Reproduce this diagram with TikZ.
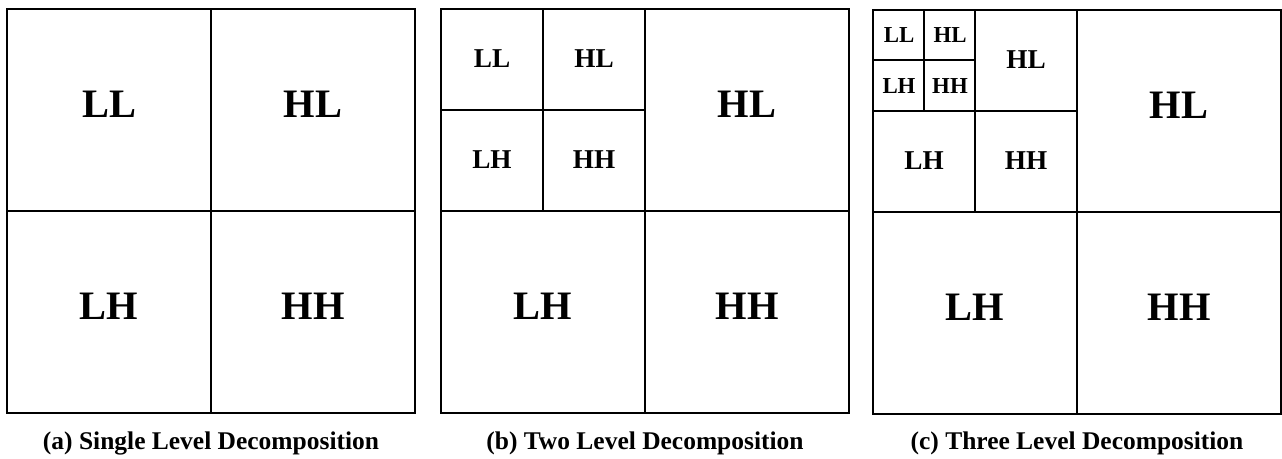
\documentclass[tikz,border=0pt]{standalone}
\usepackage{fontspec}
\setmainfont{Liberation Serif}

\begin{document}
\begin{tikzpicture}[
  x=0.02cm,y=-0.02cm,
  frame/.style={line width=0.9pt},
  lblA/.style={font=\fontsize{23}{23}\selectfont\bfseries,inner sep=0pt},
  lblB/.style={font=\fontsize{15.5}{16}\selectfont\bfseries,inner sep=0pt},
  lblC/.style={font=\fontsize{13}{13}\selectfont\bfseries,inner sep=0pt},
  capt/.style={font=\fontsize{14.5}{15}\selectfont\bfseries,inner sep=0pt}
]
\useasboundingbox (0,0) rectangle (1282,459);

% ---- (a) single level ----
\begin{scope}[shift={(7,9)}]
\draw[frame] (0,0) rectangle (408,404);
\draw[frame] (204,0) -- (204,404) (0,202) -- (408,202);
\node[lblA] (a-ll) at (102,95)  {LL};
\node[lblA] (a-hl) at (306,95)  {HL};
\node[lblA] (a-lh) at (102,297) {LH};
\node[lblA] (a-hh) at (306,297) {HH};
\node[capt] (a-cap) at (204,434) {(a) Single Level Decomposition};
\end{scope}

% ---- (b) two levels ----
\begin{scope}[shift={(441,9)}]
\draw[frame] (0,0) rectangle (408,404);
\draw[frame] (204,0) -- (204,404) (0,202) -- (408,202);
\draw[frame] (102,0) -- (102,202) (0,101) -- (204,101);
\node[lblB] (b-ll2) at (51,50)   {LL};
\node[lblB] (b-hl2) at (153,50)  {HL};
\node[lblB] (b-lh2) at (51,151)  {LH};
\node[lblB] (b-hh2) at (153,151) {HH};
\node[lblA] (b-hl) at (306,95)  {HL};
\node[lblA] (b-lh) at (102,297) {LH};
\node[lblA] (b-hh) at (306,297) {HH};
\node[capt] (b-cap) at (204,434) {(b) Two Level Decomposition};
\end{scope}

% ---- (c) three levels ----
\begin{scope}[shift={(873,10)}]
\draw[frame] (0,0) rectangle (408,404);
\draw[frame] (204,0) -- (204,404) (0,202) -- (408,202);
\draw[frame] (102,0) -- (102,202) (0,101) -- (204,101);
\draw[frame] (51,0) -- (51,101) (0,50) -- (102,50);
\node[lblC] (c-ll3) at (26,25)   {LL};
\node[lblC] (c-hl3) at (77,25)   {HL};
\node[lblC] (c-lh3) at (26,76)   {LH};
\node[lblC] (c-hh3) at (77,76)   {HH};
\node[lblB] (c-hl2) at (153,50)  {HL};
\node[lblB] (c-lh2) at (51,151)  {LH};
\node[lblB] (c-hh2) at (153,151) {HH};
\node[lblA] (c-hl) at (306,95)  {HL};
\node[lblA] (c-lh) at (102,297) {LH};
\node[lblA] (c-hh) at (306,297) {HH};
\node[capt] (c-cap) at (204,433) {(c) Three Level Decomposition};
\end{scope}
\end{tikzpicture}
\end{document}
